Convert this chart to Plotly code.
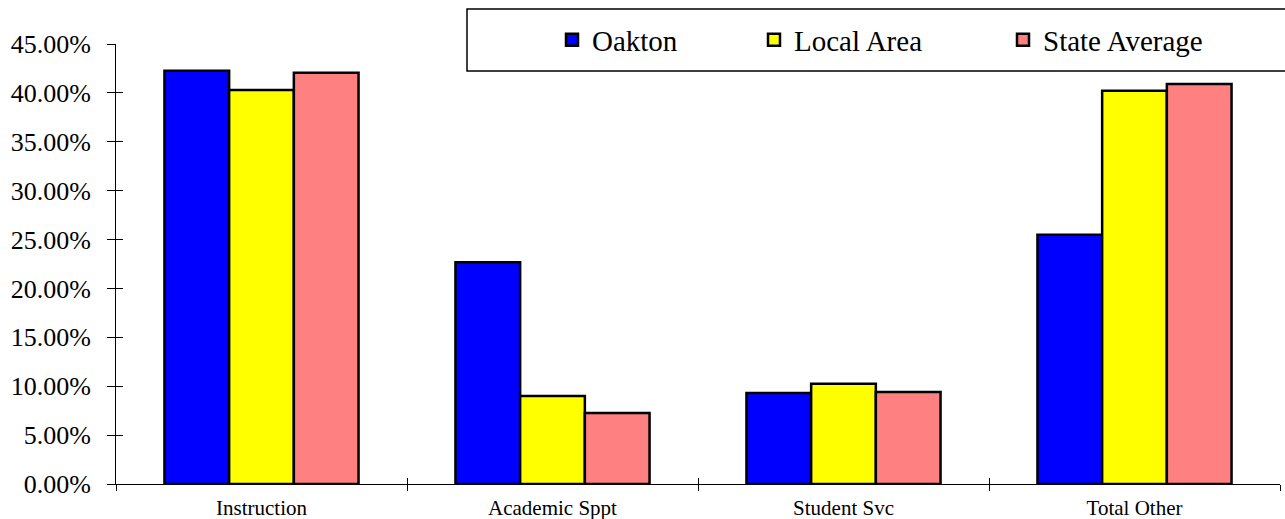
import plotly.graph_objects as go

categories = ["Instruction", "Academic Sppt", "Student Svc", "Total Other"]
oakton = [0.4227, 0.2268, 0.0930, 0.2548]
local_area = [0.4030, 0.0900, 0.1026, 0.4023]
state_avg = [0.4207, 0.0725, 0.0940, 0.4091]
y_ticks = [0, 0.05, 0.10, 0.15, 0.20, 0.25, 0.30, 0.35, 0.40, 0.45]

series = [
    ("Oakton", oakton, "#0000FF", "legend"),
    ("Local Area", local_area, "#FFFF00", "legend2"),
    ("State Average", state_avg, "#FF8080", "legend3"),
]

FONT = "Liberation Serif, Times New Roman, serif"
W, H = 1285, 519
ML, MR, MT, MB = 116, 5, 44, 35
PW, PH = W - ML - MR, H - MT - MB

def px_x(page_x):
    return (page_x - ML) / PW

def px_y(page_y):
    return (H - MB - page_y) / PH

fig = go.Figure()
for name, vals, color, leg in series:
    fig.add_trace(go.Bar(
        x=categories, y=vals, name=name, legend=leg,
        marker=dict(color=color, line=dict(color="black", width=2.5)),
    ))

leg_common = dict(orientation="h", yanchor="middle", xanchor="left",
                  font=dict(family=FONT, size=29, color="black"),
                  bgcolor="rgba(0,0,0,0)", borderwidth=0)
fig.update_layout(
    width=W, height=H,
    margin=dict(l=ML, r=MR, t=MT, b=MB, autoexpand=False),
    paper_bgcolor="white", plot_bgcolor="white",
    barmode="group", bargap=0.333, bargroupgap=0,
    font=dict(family=FONT, color="black"),
    legend=dict(x=px_x(552), y=px_y(40), **leg_common),
    legend2=dict(x=px_x(754), y=px_y(40), **leg_common),
    legend3=dict(x=px_x(1003), y=px_y(40), **leg_common),
    xaxis=dict(type="category", range=[-0.5, 3.5], tickson="boundaries",
               showline=True, linecolor="black", linewidth=1,
               ticks="outside", ticklen=6, tickcolor="black",
               tickfont=dict(family=FONT, size=21, color="black"),
               ticklabelstandoff=5, showgrid=False, zeroline=False, automargin=False),
    yaxis=dict(range=[0, 0.45], tickvals=y_ticks, tickformat=".2%",
               showline=True, linecolor="black", linewidth=1,
               ticks="outside", ticklen=8, tickcolor="black",
               tickfont=dict(family=FONT, size=26, color="black"),
               ticklabelstandoff=11, showgrid=False, zeroline=False, automargin=False),
    xaxis2=dict(overlaying="x", range=[-0.5, 3.5], tickvals=[-0.5, 0.5, 1.5, 2.5, 3.5],
                ticks="inside", ticklen=6, tickcolor="black", showticklabels=False,
                showgrid=False, zeroline=False, showline=False, side="bottom",
                automargin=False),
    yaxis2=dict(overlaying="y", range=[0, 0.45], tickvals=y_ticks,
                ticks="inside", ticklen=7, tickcolor="black", showticklabels=False,
                showgrid=False, zeroline=False, showline=False, side="left",
                automargin=False),
    shapes=[dict(type="rect", xref="paper", yref="paper",
                 x0=px_x(467), x1=px_x(1292), y0=px_y(71), y1=px_y(9),
                 line=dict(color="black", width=1.5), fillcolor="rgba(0,0,0,0)")],
)
fig.add_trace(go.Scatter(x=[None], y=[None], xaxis="x2", yaxis="y2",
                         showlegend=False, hoverinfo="skip"))

fig.write_html("out.html", config={"displayModeBar": False},
               post_script="document.body.style.margin='0';document.body.style.overflow='hidden';")
